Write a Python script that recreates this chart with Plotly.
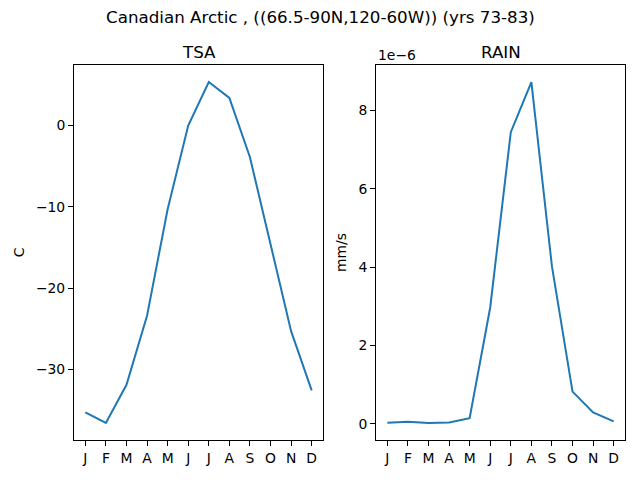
import plotly.graph_objects as go
from plotly.subplots import make_subplots

months = ['J', 'F', 'M', 'A', 'M', 'J', 'J', 'A', 'S', 'O', 'N', 'D']
month_idx = list(range(12))

# monthly climatology
tsa = [-35.3, -36.6, -31.9, -23.4, -10.3, 0.0, 5.35, 3.4, -3.9, -14.6, -25.3, -32.6]
rain = [0.025e-6, 0.05e-6, 0.02e-6, 0.03e-6, 0.14e-6, 2.97e-6,
        7.45e-6, 8.73e-6, 4.02e-6, 0.82e-6, 0.29e-6, 0.06e-6]

tsa_ticks = [-30, -20, -10, 0]
rain_ticks = [0, 2e-6, 4e-6, 6e-6, 8e-6]
rain_ticktext = ['0', '2', '4', '6', '8']

font_family = 'DejaVu Sans'
line_color = '#1f77b4'

fig = make_subplots(rows=1, cols=2)
fig.add_trace(go.Scatter(x=month_idx, y=tsa, mode='lines',
                         line={'color': line_color, 'width': 2}), row=1, col=1)
fig.add_trace(go.Scatter(x=month_idx, y=rain, mode='lines',
                         line={'color': line_color, 'width': 2}), row=1, col=2)


def pad(vals):
    lo, hi = min(vals), max(vals)
    m = (hi - lo) * 0.05
    return [lo - m, hi + m]


axis_style = dict(showline=True, linecolor='black', linewidth=1, mirror=True,
                  ticks='outside', ticklen=5, tickcolor='black', showgrid=False,
                  zeroline=False, tickfont={'size': 13.9, 'color': 'black'})

fig.update_xaxes(tickvals=month_idx, ticktext=months, range=pad(month_idx), **axis_style)
fig.update_xaxes(domain=[74 / 640, 323 / 640], row=1, col=1)
fig.update_xaxes(domain=[376 / 640, 625 / 640], row=1, col=2)

y_domain = [1 - 440 / 480, 1 - 65 / 480]
fig.update_yaxes(domain=y_domain, tickvals=tsa_ticks, range=pad(tsa), **axis_style, row=1, col=1)
fig.update_yaxes(domain=y_domain, tickvals=rain_ticks, ticktext=rain_ticktext,
                 range=pad(rain), **axis_style, row=1, col=2)
fig.update_yaxes(title_text='C', title_standoff=8, title_font={'size': 13.9}, row=1, col=1)
fig.update_yaxes(title_text='mm/s', title_standoff=8, title_font={'size': 13.9}, row=1, col=2)

annots = [
    dict(text='Canadian Arctic , ((66.5-90N,120-60W)) (yrs 73-83)', x=0.5, y=1 - 17 / 480,
         font={'size': 16.7}),
    dict(text='TSA', x=198.5 / 640, y=1 - 52 / 480, font={'size': 16.7}),
    dict(text='RAIN', x=500.5 / 640, y=1 - 52 / 480, font={'size': 16.7}),
]
for a in annots:
    fig.add_annotation(xref='paper', yref='paper', showarrow=False,
                       xanchor='center', yanchor='middle', **a)
fig.add_annotation(text='1e\u22126', xref='paper', yref='paper', x=376 / 640, y=1 - 55 / 480,
                   xanchor='left', yanchor='middle', showarrow=False, font={'size': 13.9})

fig.update_layout(width=640, height=480, showlegend=False,
                  margin={'l': 0, 'r': 0, 't': 0, 'b': 0},
                  plot_bgcolor='white', paper_bgcolor='white',
                  font={'family': font_family, 'color': 'black'})

# drop the default page margin so the figure sits at the window's corner
fig.write_html('out.html', config={'displayModeBar': False},
               post_script="document.body.style.margin='0';")
